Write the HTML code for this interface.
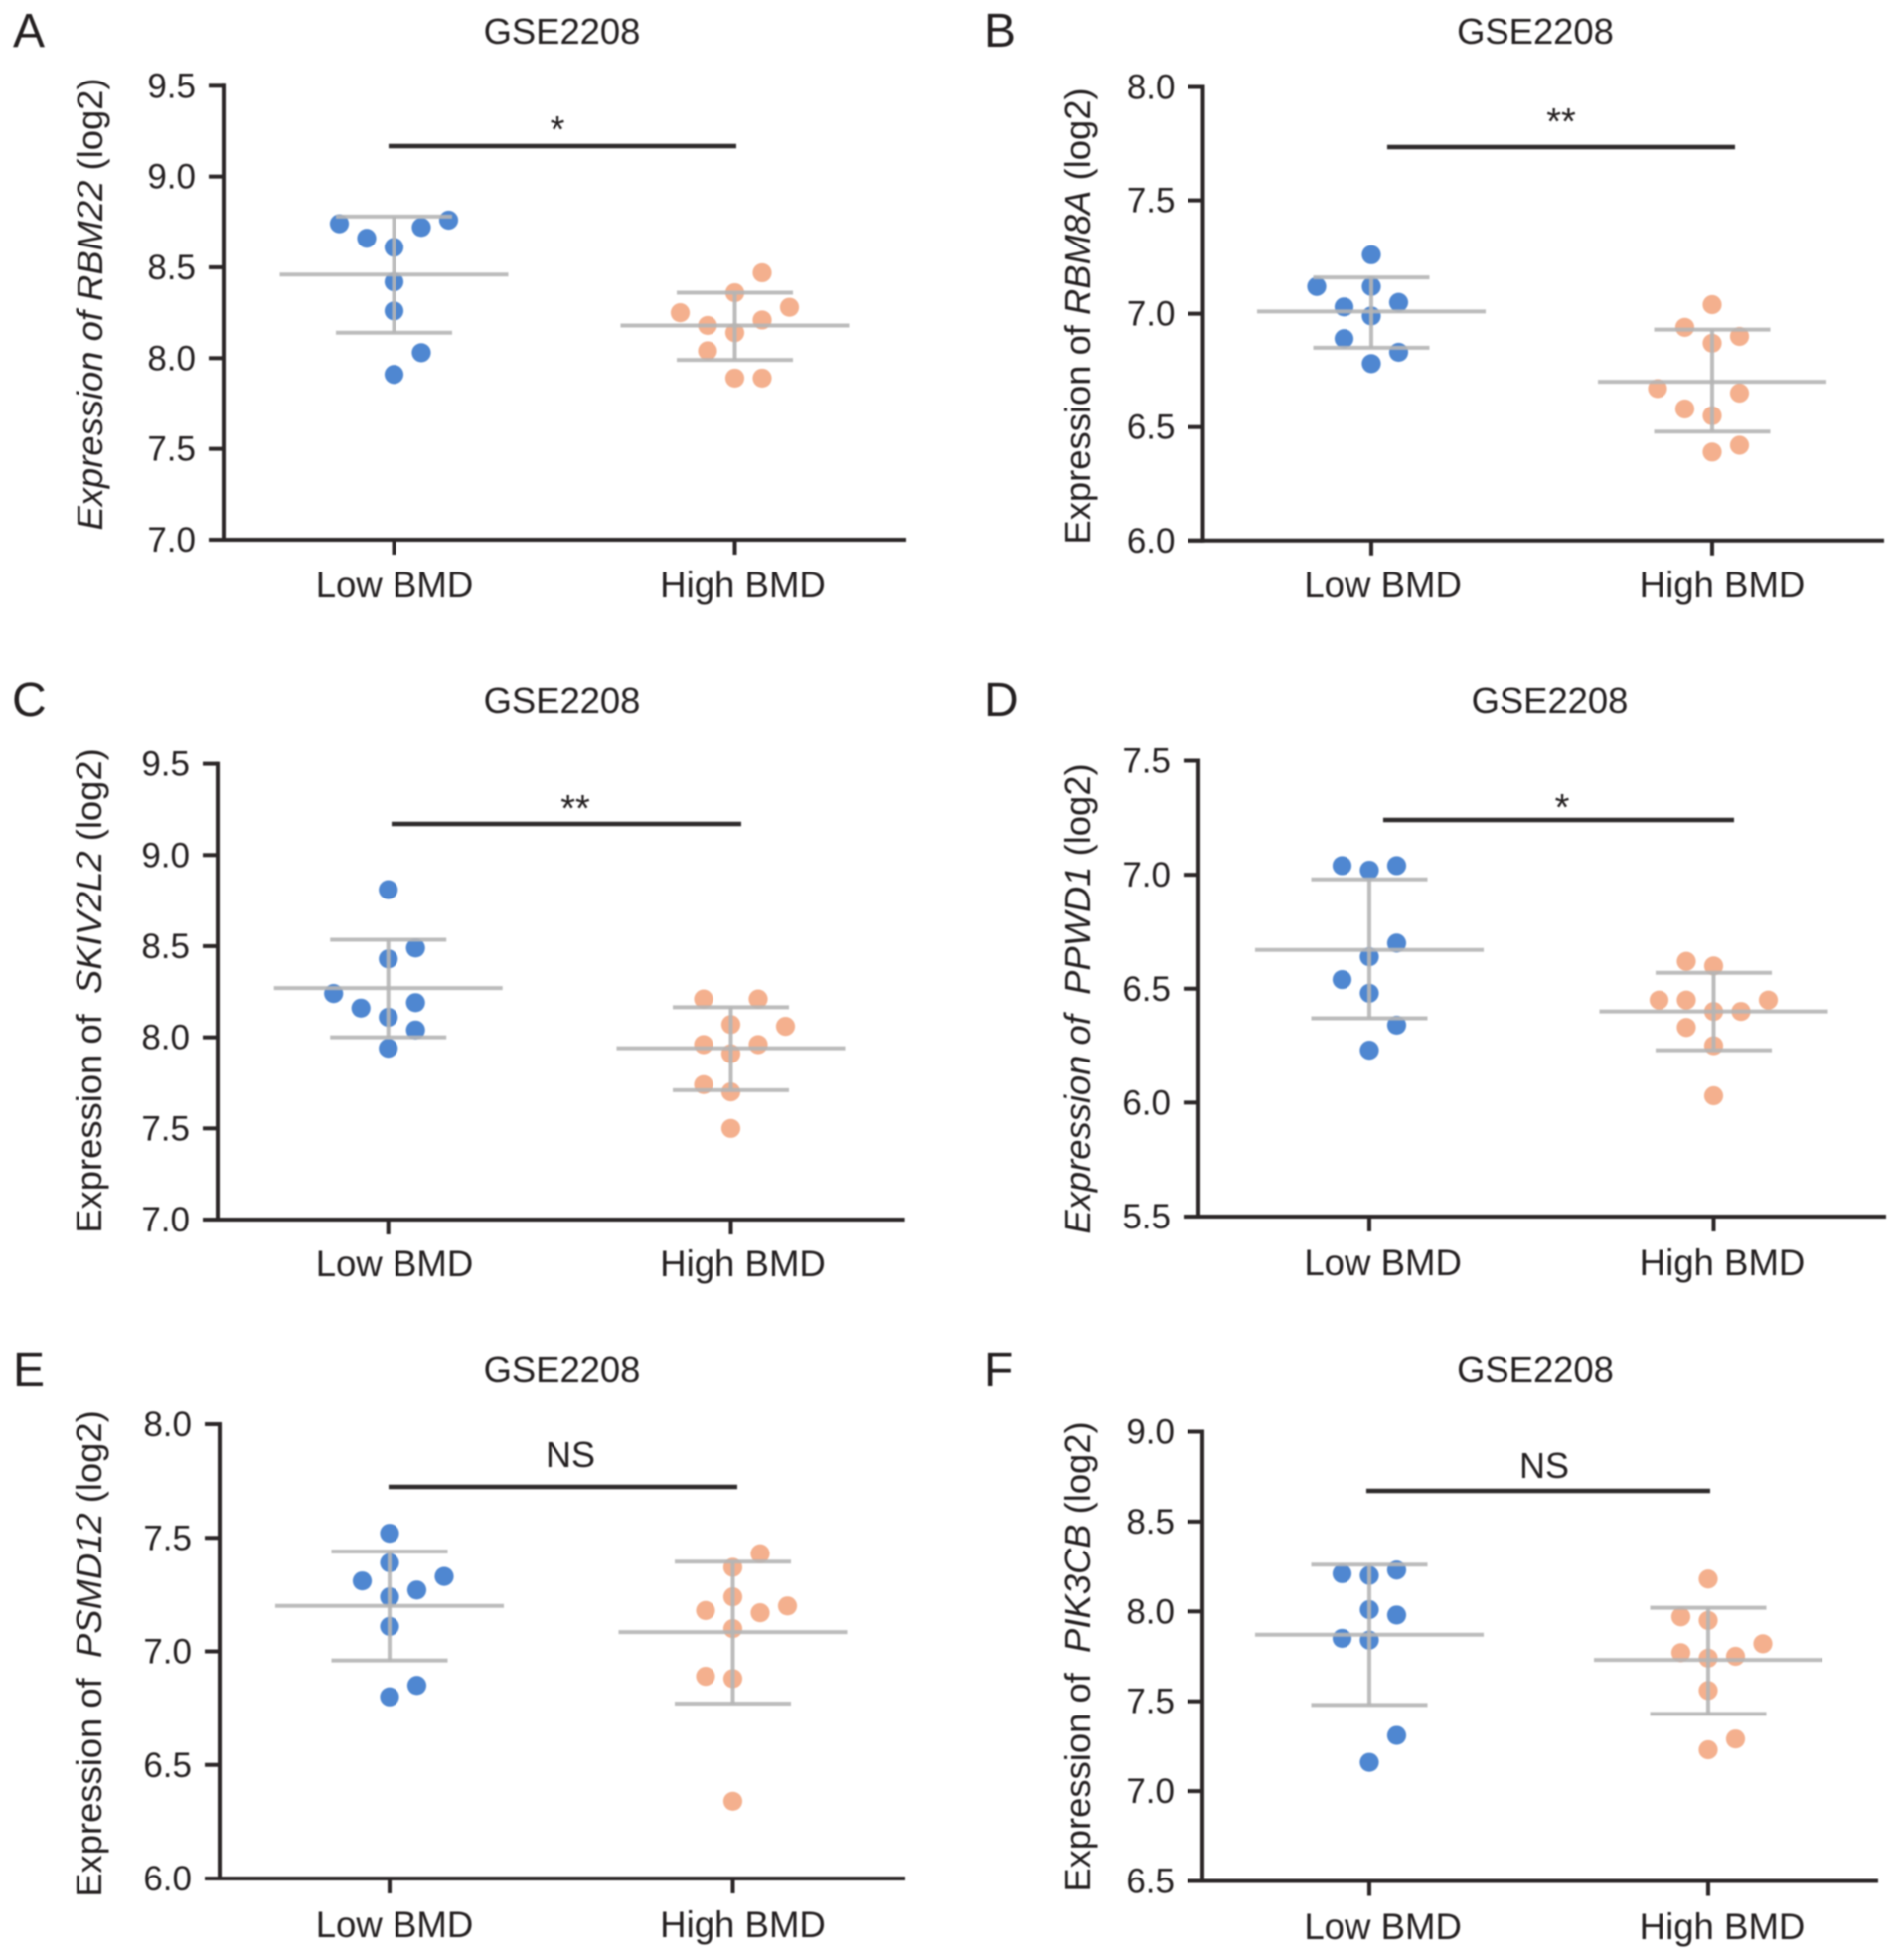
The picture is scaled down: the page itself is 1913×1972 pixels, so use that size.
<!DOCTYPE html>
<html lang="en">
<head>
<meta charset="utf-8">
<title>GSE2208 expression panels</title>
<style>
html,body{margin:0;padding:0;background:#fff;}
#figure{display:block;width:1913px;height:1972px;filter:blur(0.7px);}
text{font-family:"Liberation Sans",sans-serif;fill:#231f20;white-space:pre;}
.letter{font-size:48px;}
.title{font-size:36.4px;text-anchor:middle;}
.ylabel{font-size:36.4px;text-anchor:middle;}
.cat{font-size:36.6px;text-anchor:middle;}
.tick{font-size:35px;text-anchor:end;}
.sig{font-size:36px;text-anchor:middle;}
.star{font-size:38px;}
.it{font-style:italic;}
</style>
</head>
<body>
<svg id="figure" xmlns="http://www.w3.org/2000/svg" width="1913" height="1972" viewBox="0 0 1913 1972">
  <rect x="0" y="0" width="1913" height="1972" fill="#fff"/>

  <text class="letter" x="13" y="47">A</text>
  <text class="letter" x="990" y="47">B</text>
  <text class="letter" x="12" y="720">C</text>
  <text class="letter" x="990" y="720">D</text>
  <text class="letter" x="13" y="1394">E</text>
  <text class="letter" x="990" y="1394">F</text>

  <text class="title" x="565.5" y="44">GSE2208</text>
  <text class="title" x="1545" y="44">GSE2208</text>
  <text class="title" x="565.5" y="717">GSE2208</text>
  <text class="title" x="1559.5" y="717">GSE2208</text>
  <text class="title" x="565.5" y="1390">GSE2208</text>
  <text class="title" x="1545" y="1390">GSE2208</text>

  <text class="ylabel" transform="translate(103,306) rotate(-90)"><tspan class="it">Expression of RBM22</tspan> (log2)</text>
  <text class="ylabel" transform="translate(1097,318) rotate(-90)">Expression of <tspan class="it">RBM8A</tspan> (log2)</text>
  <text class="ylabel" transform="translate(102,997) rotate(-90)">Expression of  <tspan class="it">SKIV2L2</tspan> (log2)</text>
  <text class="ylabel" transform="translate(1097,1005) rotate(-90)"><tspan class="it">Expression of  PPWD1</tspan> (log2)</text>
  <text class="ylabel" transform="translate(102,1664) rotate(-90)">Expression of  <tspan class="it">PSMD12</tspan> (log2)</text>
  <text class="ylabel" transform="translate(1097,1667) rotate(-90)">Expression of  <tspan class="it">PIK3CB</tspan> (log2)</text>

  <line x1="391" x2="741" y1="147" y2="147" stroke="#2e2a2b" stroke-width="4.4"/>
  <line x1="1396" x2="1746" y1="148" y2="148" stroke="#2e2a2b" stroke-width="4.4"/>
  <line x1="394" x2="746" y1="829" y2="829" stroke="#2e2a2b" stroke-width="4.4"/>
  <line x1="1392" x2="1745" y1="825" y2="825" stroke="#2e2a2b" stroke-width="4.4"/>
  <line x1="391" x2="742" y1="1496" y2="1496" stroke="#2e2a2b" stroke-width="4.4"/>
  <line x1="1375" x2="1721" y1="1500" y2="1500" stroke="#2e2a2b" stroke-width="4.4"/>

  <text class="sig star" x="561" y="143">*</text>
  <text class="sig star" x="1571" y="135">**</text>
  <text class="sig star" x="579" y="826">**</text>
  <text class="sig star" x="1572" y="825">*</text>
  <text class="sig" x="574" y="1476">NS</text>
  <text class="sig" x="1554" y="1487">NS</text>

  <g id="plots"></g>
</svg>

<script>
// Shared categories
const categories = ['Low BMD', 'High BMD'];

// Panel A - RBM22
const aTicks = ['7.0', '7.5', '8.0', '8.5', '9.0', '9.5'];
const aLow = [8.74, 8.66, 8.61, 8.72, 8.76, 8.42, 8.26, 8.03, 7.91];
const aLowSlots = [-2, -1, 0, 1, 2, 0, 0, 1, 0];
const aLowStats = [8.46, 8.78, 8.14];
const aHigh = [8.47, 8.36, 8.28, 8.25, 8.21, 8.18, 8.14, 8.04, 7.89, 7.89];
const aHighSlots = [1, 0, 2, -2, 1, -1, 0, -1, 0, 1];
const aHighStats = [8.18, 8.36, 7.99];

// Panel B - RBM8A
const bTicks = ['6.0', '6.5', '7.0', '7.5', '8.0'];
const bLow = [7.26, 7.12, 7.12, 7.03, 7.05, 6.99, 6.89, 6.83, 6.78];
const bLowSlots = [0, -2, 0, -1, 1, 0, -1, 1, 0];
const bLowStats = [7.01, 7.16, 6.85];
const bHigh = [7.04, 6.94, 6.90, 6.87, 6.67, 6.65, 6.58, 6.55, 6.42, 6.39];
const bHighSlots = [0, -1, 1, 0, -2, 1, -1, 0, 1, 0];
const bHighStats = [6.70, 6.93, 6.48];

// Panel C - SKIV2L2
const cTicks = ['7.0', '7.5', '8.0', '8.5', '9.0', '9.5'];
const cLow = [8.81, 8.49, 8.43, 8.24, 8.16, 8.19, 8.11, 8.04, 7.94];
const cLowSlots = [0, 1, 0, -2, -1, 1, 0, 1, 0];
const cLowStats = [8.27, 8.535, 8.00];
const cHigh = [8.21, 8.21, 8.07, 8.06, 7.96, 7.96, 7.91, 7.74, 7.70, 7.50];
const cHighSlots = [-1, 1, 0, 2, -1, 1, 0, -1, 0, 0];
const cHighStats = [7.94, 8.165, 7.71];

// Panel D - PPWD1
const dTicks = ['5.5', '6.0', '6.5', '7.0', '7.5'];
const dLow = [7.04, 7.02, 7.04, 6.70, 6.64, 6.54, 6.48, 6.34, 6.23];
const dLowSlots = [-1, 0, 1, 1, 0, -1, 0, 1, 0];
const dLowStats = [6.67, 6.98, 6.37];
const dHigh = [6.62, 6.60, 6.45, 6.45, 6.45, 6.40, 6.40, 6.33, 6.25, 6.03];
const dHighSlots = [-1, 0, -2, -1, 2, 0, 1, -1, 0, 0];
const dHighStats = [6.40, 6.57, 6.23];

// Panel E - PSMD12
const eTicks = ['6.0', '6.5', '7.0', '7.5', '8.0'];
const eLow = [7.52, 7.39, 7.31, 7.33, 7.27, 7.24, 7.11, 6.85, 6.80];
const eLowSlots = [0, 0, -1, 2, 1, 0, 0, 1, 0];
const eLowStats = [7.20, 7.44, 6.96];
const eHigh = [7.43, 7.37, 7.24, 7.18, 7.17, 7.20, 7.10, 6.89, 6.88, 6.34];
const eHighSlots = [1, 0, 0, -1, 1, 2, 0, -1, 0, 0];
const eHighStats = [7.085, 7.395, 6.77];

// Panel F - PIK3CB
const fTicks = ['6.5', '7.0', '7.5', '8.0', '8.5', '9.0'];
const fLow = [8.21, 8.20, 8.23, 8.01, 7.98, 7.85, 7.84, 7.31, 7.16];
const fLowSlots = [-1, 0, 1, 0, 1, -1, 0, 1, 0];
const fLowStats = [7.87, 8.26, 7.48];
const fHigh = [8.18, 7.97, 7.95, 7.82, 7.77, 7.74, 7.75, 7.56, 7.29, 7.23];
const fHighSlots = [0, -1, 0, 2, -1, 0, 1, 0, 1, 0];
const fHighStats = [7.73, 8.02, 7.43];

const NS = 'http://www.w3.org/2000/svg';
const plots = document.getElementById('plots');

function mk(tag, attrs, parent) {
  const el = document.createElementNS(NS, tag);
  for (const k in attrs) el.setAttribute(k, attrs[k]);
  parent.appendChild(el);
  return el;
}

function drawGroup(g, id, groupName, cx, yScale, values, slots, stats, color) {
  const slotStep = 27.5;
  values.forEach(function (v, i) {
    const dot = mk('circle', { cx: cx + slots[i] * slotStep, cy: yScale(v), r: 9.6, fill: color }, g);
    
    
  });
  const grey = { stroke: '#b5b5b5', 'stroke-width': 4, 'stroke-opacity': 0.9 };
  const stem = mk('line', Object.assign({ x1: cx, x2: cx, y1: yScale(stats[1]), y2: yScale(stats[2]) }, grey), g);
  
  
  const mean = mk('line', Object.assign({ x1: cx - 115, x2: cx + 115, y1: yScale(stats[0]), y2: yScale(stats[0]) }, grey), g);
  
  
  const upper = mk('line', Object.assign({ x1: cx - 58.5, x2: cx + 58.5, y1: yScale(stats[1]), y2: yScale(stats[1]) }, grey), g);
  
  
  const lower = mk('line', Object.assign({ x1: cx - 58.5, x2: cx + 58.5, y1: yScale(stats[2]), y2: yScale(stats[2]) }, grey), g);
  
  
}

function drawPanel(p) {
  const g = mk('g', {}, plots);
  
  

  const min = parseFloat(p.ticks[0]);
  const max = parseFloat(p.ticks[p.ticks.length - 1]);
  const yScale = function (v) { return p.bottom - (v - min) / (max - min) * (p.bottom - p.top); };
  const xs = [p.lowX, p.highX];

  drawGroup(g, p.id, 'low-bmd', p.lowX, yScale, p.low, p.lowSlots, p.lowStats, '#4f87d1');
  drawGroup(g, p.id, 'high-bmd', p.highX, yScale, p.high, p.highSlots, p.highStats, '#f4b08e');

  const ink = { stroke: '#2b2627', 'stroke-width': 4 };
  const yAxis = mk('line', Object.assign({ x1: p.left, x2: p.left, y1: p.top - 2, y2: p.bottom + 2 }, ink), g);
  
  
  const xAxis = mk('line', Object.assign({ x1: p.left - 15, x2: p.right, y1: p.bottom, y2: p.bottom }, ink), g);
  
  

  p.ticks.forEach(function (t) {
    const y = yScale(parseFloat(t));
    const mark = mk('line', Object.assign({ x1: p.left - 15, x2: p.left, y1: y, y2: y }, ink), g);
    
    
    const label = mk('text', { class: 'tick', x: p.left - 28, y: y + 12 }, g);
    label.textContent = t;
    
    
  });

  categories.forEach(function (c, i) {
    const mark = mk('line', Object.assign({ x1: xs[i], x2: xs[i], y1: p.bottom, y2: p.bottom + 15 }, ink), g);
    
    
    const label = mk('text', { class: 'cat', x: p.labelX[i], y: p.labelY }, g);
    label.textContent = c;
    
    
  });
}

drawPanel({ id: 'a', ticks: aTicks, low: aLow, lowSlots: aLowSlots, lowStats: aLowStats, high: aHigh, highSlots: aHighSlots, highStats: aHighStats,
  left: 225, right: 912, top: 86.3, bottom: 543, lowX: 396.5, highX: 739.5, labelX: [397, 747.5], labelY: 601 });
drawPanel({ id: 'b', ticks: bTicks, low: bLow, lowSlots: bLowSlots, lowStats: bLowStats, high: bHigh, highSlots: bHighSlots, highStats: bHighStats,
  left: 1210.5, right: 1896, top: 87.5, bottom: 543.8, lowX: 1380, highX: 1723, labelX: [1391.6, 1733], labelY: 601 });
drawPanel({ id: 'c', ticks: cTicks, low: cLow, lowSlots: cLowSlots, lowStats: cLowStats, high: cHigh, highSlots: cHighSlots, highStats: cHighStats,
  left: 219, right: 910.6, top: 768.6, bottom: 1227, lowX: 390.7, highX: 735.5, labelX: [397, 747.5], labelY: 1284 });
drawPanel({ id: 'd', ticks: dTicks, low: dLow, lowSlots: dLowSlots, lowStats: dLowStats, high: dHigh, highSlots: dHighSlots, highStats: dHighStats,
  left: 1206, right: 1898, top: 765.5, bottom: 1224, lowX: 1378, highX: 1724.5, labelX: [1391.6, 1733], labelY: 1283 });
drawPanel({ id: 'e', ticks: eTicks, low: eLow, lowSlots: eLowSlots, lowStats: eLowStats, high: eHigh, highSlots: eHighSlots, highStats: eHighStats,
  left: 221, right: 911, top: 1433, bottom: 1890, lowX: 392, highX: 737.5, labelX: [397, 747.5], labelY: 1949 });
drawPanel({ id: 'f', ticks: fTicks, low: fLow, lowSlots: fLowSlots, lowStats: fLowStats, high: fHigh, highSlots: fHighSlots, highStats: fHighStats,
  left: 1210, right: 1890, top: 1440.5, bottom: 1892.5, lowX: 1378, highX: 1719, labelX: [1391.6, 1733], labelY: 1951 });
</script>
</body>
</html>
